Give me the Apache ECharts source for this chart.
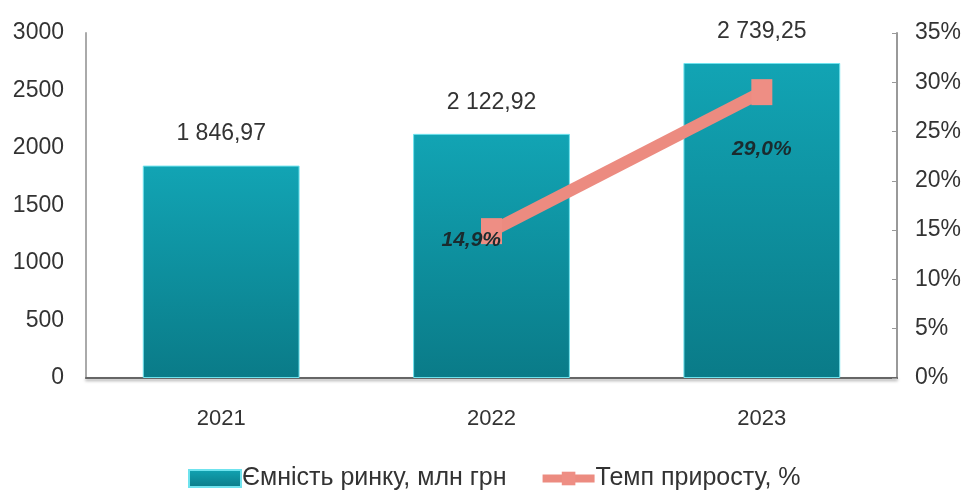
<!DOCTYPE html>
<html>
<head>
<meta charset="utf-8">
<script src="https://cdn.jsdelivr.net/npm/echarts@6/dist/echarts.min.js"></script>
<style>
  html, body { margin: 0; padding: 0; background: #fff; }
  #chart { width: 971px; height: 503px; }
</style>
</head>
<body>
<div id="chart"></div>
<script>
// Market size (UAH mln) and year-over-year growth (%)
const years = ['2021', '2022', '2023'];
const marketSize = [1846.97, 2122.92, 2739.25];
const growthRate = [null, 14.9, 29.0];
const leftTicks = [0, 3000, 500];
const rightTicks = [0, 35, 5];

const FONT = '"Liberation Sans", Arial, sans-serif';

function fmtNum(v) {
  const parts = v.toFixed(2).split('.');
  const intPart = parts[0].replace(/\B(?=(\d{3})+(?!\d))/g, ' ');
  return intPart + ',' + parts[1];
}

const chart = echarts.init(document.getElementById('chart'));
chart.setOption({
  animation: false,
  backgroundColor: '#ffffff',
  grid: { left: 86, right: 74, top: 33, bottom: 125 },
  legend: {
    bottom: 7,
    left: 183,
    itemGap: 32,
    itemWidth: 52,
    itemHeight: 17,
    textStyle: { fontFamily: FONT, fontSize: 25, color: '#333', padding: [0, 0, 0, -4] },
    data: [
      { name: 'Ємність ринку, млн грн', icon: 'rect' },
      { name: 'Темп приросту, %', lineStyle: { width: 8, color: '#ec8b80' } }
    ]
  },
  xAxis: {
    type: 'category',
    data: years,
    axisLine: { lineStyle: { color: '#666', width: 2, shadowColor: 'rgba(0,0,0,0.35)', shadowBlur: 3, shadowOffsetY: 2 } },
    axisTick: { show: false },
    axisLabel: { fontFamily: FONT, fontSize: 22, color: '#333', margin: 30 }
  },
  yAxis: [
    {
      type: 'value',
      min: leftTicks[0], max: leftTicks[1], interval: leftTicks[2],
      axisLine: { show: true, lineStyle: { color: '#aaa', width: 2 } },
      axisTick: { show: false },
      splitLine: { show: false },
      axisLabel: { fontFamily: FONT, fontSize: 23, color: '#333', margin: 22, formatter: v => String(v) }
    },
    {
      type: 'value',
      min: rightTicks[0], max: rightTicks[1], interval: rightTicks[2],
      position: 'right',
      axisLine: { show: true, lineStyle: { color: '#999', width: 2 } },
      axisTick: { show: true, inside: true, length: 5, lineStyle: { color: '#999' } },
      splitLine: { show: false },
      axisLabel: { fontFamily: FONT, fontSize: 23, color: '#333', margin: 18, formatter: '{value}%' }
    }
  ],
  series: [
    {
      name: 'Ємність ринку, млн грн',
      type: 'bar',
      data: marketSize,
      barWidth: '58%',
      itemStyle: {
        color: new echarts.graphic.LinearGradient(0, 0, 0, 1, [
          { offset: 0, color: '#12a4b4' },
          { offset: 1, color: '#0a7b88' }
        ]),
        borderColor: '#6fe3ee',
        borderWidth: 1
      },
      label: {
        show: true,
        position: 'top',
        distance: 20,
        fontFamily: FONT,
        fontSize: 23,
        color: '#333',
        formatter: p => fmtNum(p.value)
      }
    },
    {
      name: 'Темп приросту, %',
      type: 'line',
      yAxisIndex: 1,
      data: [
        growthRate[0],
        { value: growthRate[1], label: { position: 'left', distance: -20, offset: [0, 9] } },
        { value: growthRate[2], label: { position: 'bottom', distance: 34 } }
      ],
      symbol: 'rect',
      symbolSize: [21, 26],
      lineStyle: { color: '#ec8b80', width: 12 },
      itemStyle: { color: '#ee8e84' },
      label: {
        show: true,
        fontFamily: FONT,
        fontSize: 21,
        fontWeight: 'bold',
        fontStyle: 'italic',
        color: '#1a2b2e',
        formatter: p => p.value == null ? '' : p.value.toFixed(1).replace('.', ',') + '%'
      }
    }
  ]
});
</script>
</body>
</html>
